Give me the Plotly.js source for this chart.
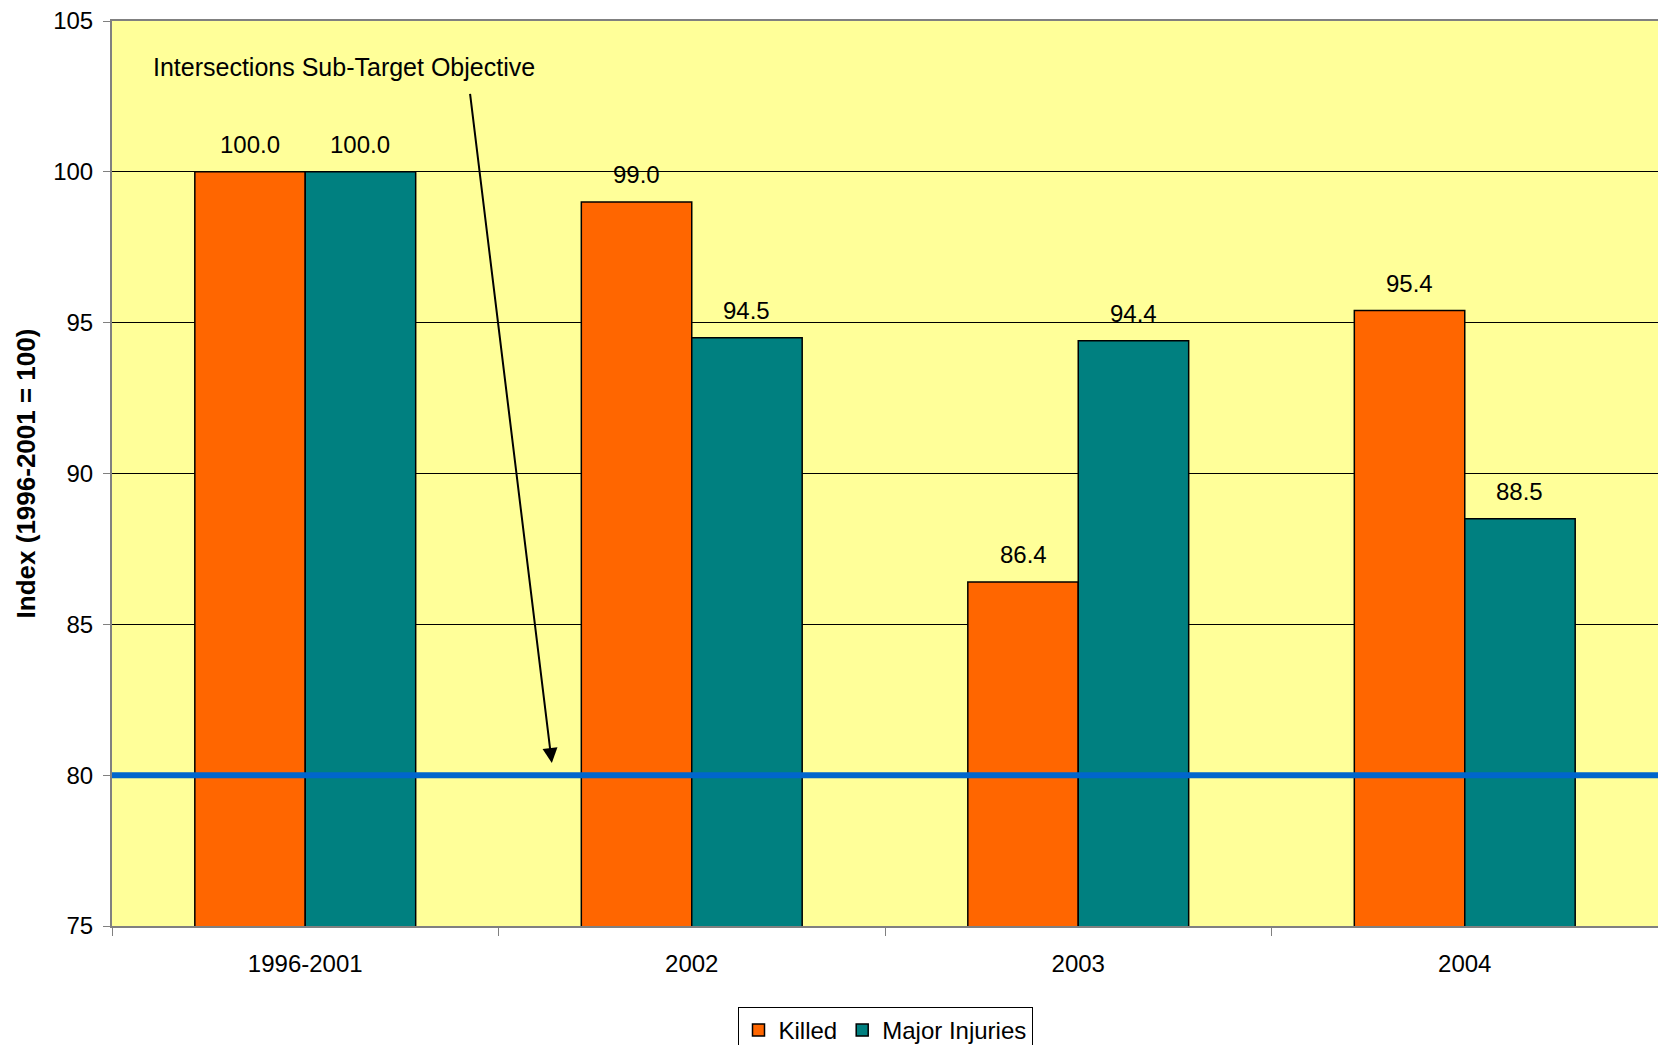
<!DOCTYPE html>
<html>
<head>
<meta charset="utf-8">
<script src="https://cdn.plot.ly/plotly-3.0.1.min.js"></script>
<style>
  html, body { margin: 0; padding: 0; background: #ffffff; }
  #chart { width: 1658px; height: 1045px; }
</style>
</head>
<body>
<div id="chart"></div>
<script>
// ---- Data ----
const categories = ["1996-2001", "2002", "2003", "2004"];
const killed = [100.0, 99.0, 86.4, 95.4];
const majorInjuries = [100.0, 94.5, 94.4, 88.5];
const targetValue = 80;
const targetLabel = "Intersections Sub-Target Objective";
const yTicks = [75, 80, 85, 90, 95, 100, 105];

const FONT = "Liberation Sans, Arial, Helvetica, sans-serif";
const barHalf = 0.5 * (1 - 1.5 / 3.5) / 2; // centre offset of each bar in a group

const traces = [
  {
    type: "bar",
    name: "Killed",
    x: categories,
    y: killed,
    marker: { color: "#FF6600", line: { color: "#000000", width: 1.5 } },
    hoverinfo: "x+y+name"
  },
  {
    type: "bar",
    name: "Major Injuries",
    x: categories,
    y: majorInjuries,
    marker: { color: "#008080", line: { color: "#000000", width: 1.5 } },
    hoverinfo: "x+y+name"
  }
];

const annotations = [];
function addLabels(values, offset) {
  values.forEach(function (v, i) {
    annotations.push({
      x: i + offset, y: v, xref: "x", yref: "y",
      text: v.toFixed(1), showarrow: false,
      yanchor: "bottom", xanchor: "center", yshift: 12,
      font: { family: FONT, size: 24, color: "#000000" }
    });
  });
}
addLabels(killed, -barHalf);
addLabels(majorInjuries, barHalf);

// annotation text
annotations.push({
  x: -0.398, y: 103.46, xref: "x", yref: "y",
  text: targetLabel, showarrow: false,
  xanchor: "left", yanchor: "middle",
  font: { family: FONT, size: 25, color: "#000000" }
});
// arrow pointing to target line
annotations.push({
  x: 0.638, y: 80.40, xref: "x", yref: "y",
  ax: 0.426, ay: 102.63, axref: "x", ayref: "y",
  text: "", showarrow: true,
  arrowhead: 2, arrowsize: 1.5, arrowwidth: 2, arrowcolor: "#000000",
  standoff: 0, startstandoff: 0
});

const layout = {
  width: 1658,
  height: 1045,
  margin: { l: 112, r: 0, t: 21, b: 119, pad: 0, autoexpand: false },
  paper_bgcolor: "#ffffff",
  plot_bgcolor: "#FFFF99",
  font: { family: FONT, size: 24, color: "#000000" },
  barmode: "group",
  bargap: 1.5 / 3.5,
  bargroupgap: 0,
  showlegend: true,
  legend: {
    orientation: "h",
    x: 0.5, xanchor: "center",
    yref: "container",
    y: 1 - 1007 / 1045, yanchor: "top",
    bgcolor: "#ffffff",
    bordercolor: "#000000",
    borderwidth: 1,
    font: { family: FONT, size: 24, color: "#000000" },
    itemwidth: 30,
    tracegroupgap: 0
  },
  xaxis: {
    type: "category",
    range: [-0.5, 3.5],
    showgrid: false,
    zeroline: false,
    showline: true,
    linecolor: "#808080",
    linewidth: 2,
    mirror: true,
    ticks: "outside",
    tickson: "boundaries",
    ticklen: 8,
    tickcolor: "#808080",
    tickwidth: 1,
    tickfont: { family: FONT, size: 24, color: "#000000" },
    ticklabelstandoff: 15,
    automargin: false,
    fixedrange: true
  },
  yaxis: {
    range: [75, 105],
    tickvals: yTicks,
    ticktext: yTicks.map(String),
    showgrid: true,
    gridcolor: "#000000",
    gridwidth: 1,
    zeroline: false,
    showline: true,
    linecolor: "#808080",
    linewidth: 2,
    ticks: "outside",
    ticklen: 7,
    tickcolor: "#808080",
    tickwidth: 1,
    tickfont: { family: FONT, size: 24, color: "#000000" },
    ticklabelstandoff: 5,
    title: {
      text: "Index (1996-2001 = 100)",
      font: { family: FONT, size: 26, color: "#000000", weight: "bold" },
      standoff: 10
    },
    automargin: false,
    fixedrange: true
  },
  shapes: [
    {
      type: "line", xref: "paper", yref: "y",
      x0: 0, x1: 1, y0: targetValue, y1: targetValue,
      line: { color: "#0066CC", width: 6 },
      layer: "above"
    }
  ],
  annotations: annotations
};

Plotly.newPlot("chart", traces, layout, { displayModeBar: false, staticPlot: true });
</script>
</body>
</html>
